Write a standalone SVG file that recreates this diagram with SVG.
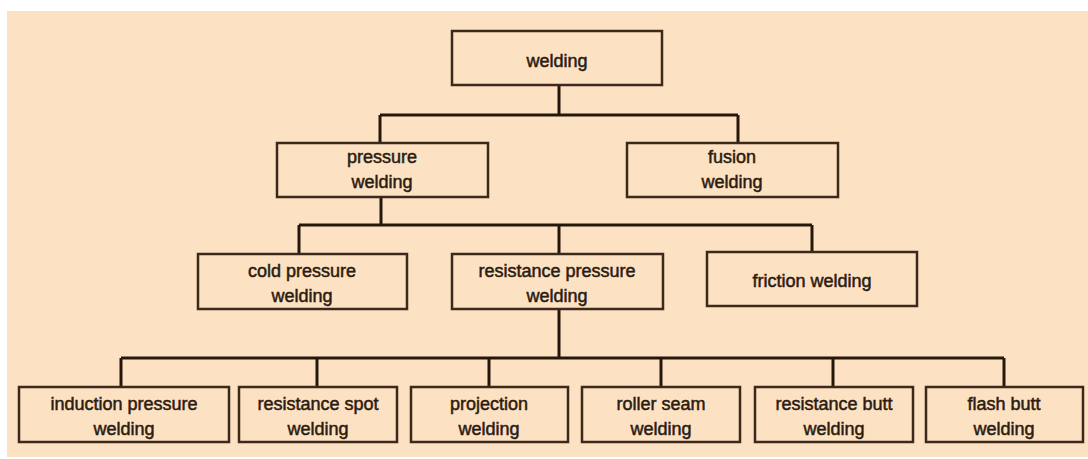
<svg xmlns="http://www.w3.org/2000/svg" width="1088" height="459" viewBox="0 0 1088 459">
<style>
.box{fill:#fde1c3;stroke:#3b2a1a;stroke-width:2.5}
.t{font-family:"Liberation Sans",Arial,sans-serif;font-size:18px;fill:#2a1c10;stroke:#2a1c10;stroke-width:0.5;text-anchor:middle}
.c{fill:none;stroke:#24180c;stroke-width:3}
</style>
<rect x="0" y="0" width="1088" height="459" fill="#ffffff"/>
<rect x="7" y="11" width="1081" height="446" fill="#fde1c3"/>
<g id="connectors" class="c">
<path d="M559 85V115M380 115H738M380 115V143M738 115V143"/>
<path d="M381 197V225M299 225H812M299 225V254M559 225V254M812 225V252"/>
<path d="M559 309V358M121 358H1004M121 358V387M317 358V387M489 358V387M661 358V387M833 358V387M1004 358V387"/>
</g>
<g id="welding"><rect class="box" x="452" y="31" width="210" height="54"/><text class="t" x="557" y="67">welding</text></g>
<g id="pressure-welding"><rect class="box" x="277" y="143" width="211" height="54"/><text class="t" x="382" y="163">pressure</text><text class="t" x="382" y="188">welding</text></g>
<g id="fusion-welding"><rect class="box" x="627" y="143" width="211" height="54"/><text class="t" x="732" y="163">fusion</text><text class="t" x="732" y="188">welding</text></g>
<g id="cold-pressure-welding"><rect class="box" x="198" y="254" width="209" height="55"/><text class="t" x="302" y="277">cold pressure</text><text class="t" x="302" y="302">welding</text></g>
<g id="resistance-pressure-welding"><rect class="box" x="452" y="254" width="211" height="55"/><text class="t" x="557" y="277">resistance pressure</text><text class="t" x="557" y="302">welding</text></g>
<g id="friction-welding"><rect class="box" x="707" y="252" width="210" height="54"/><text class="t" x="812" y="287">friction welding</text></g>
<g id="induction-pressure-welding"><rect class="box" x="19" y="387" width="210" height="55"/><text class="t" x="124" y="410">induction pressure</text><text class="t" x="124" y="435">welding</text></g>
<g id="resistance-spot-welding"><rect class="box" x="239" y="387" width="158" height="55"/><text class="t" x="318" y="410">resistance spot</text><text class="t" x="318" y="435">welding</text></g>
<g id="projection-welding"><rect class="box" x="411" y="387" width="157" height="55"/><text class="t" x="489" y="410">projection</text><text class="t" x="489" y="435">welding</text></g>
<g id="roller-seam-welding"><rect class="box" x="582" y="387" width="158" height="55"/><text class="t" x="661" y="410">roller seam</text><text class="t" x="661" y="435">welding</text></g>
<g id="resistance-butt-welding"><rect class="box" x="755" y="387" width="158" height="55"/><text class="t" x="834" y="410">resistance butt</text><text class="t" x="834" y="435">welding</text></g>
<g id="flash-butt-welding"><rect class="box" x="926" y="387" width="157" height="55"/><text class="t" x="1004" y="410">flash butt</text><text class="t" x="1004" y="435">welding</text></g>
</svg>
